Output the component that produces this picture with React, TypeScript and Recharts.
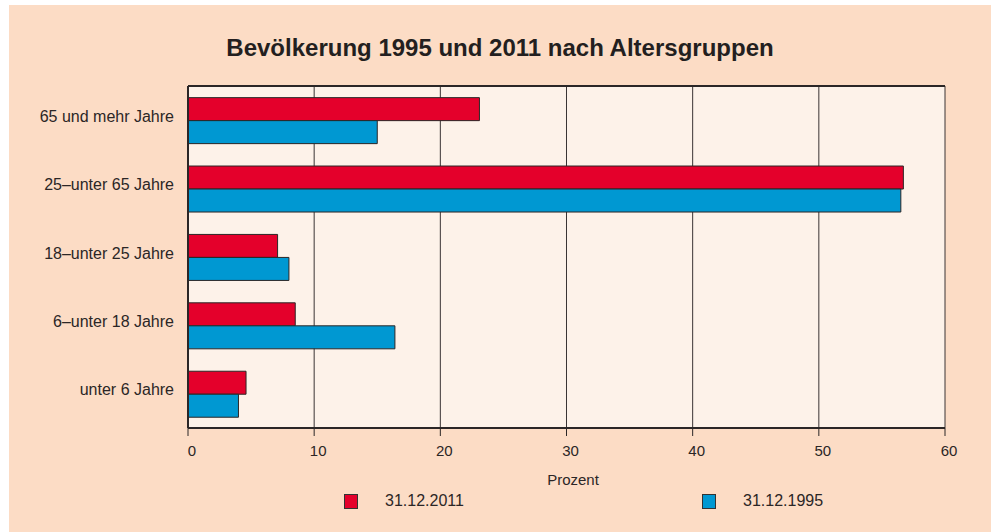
import { Bar, BarChart, CartesianGrid, XAxis, YAxis } from "recharts";

const ageGroups = [
  "65 und mehr Jahre",
  "25–unter 65 Jahre",
  "18–unter 25 Jahre",
  "6–unter 18 Jahre",
  "unter 6 Jahre"
];
const share2011 = [23.1, 56.7, 7.1, 8.5, 4.6];
const share1995 = [15.0, 56.5, 8.0, 16.4, 4.0];
const xTicks = [0, 10, 20, 30, 40, 50, 60];

const RED = "#e4002b";
const BLUE = "#0098d2";
const INK = "#2b2626";
const FONT = "'Liberation Sans', Arial, sans-serif";

const data = ageGroups.map((group, i) => ({
  group,
  y2011: share2011[i],
  y1995: share1995[i]
}));

// labels sit a little off the tick positions in the original
function XTick({ x, y, payload }: any) {
  return (
    <text x={x + 4} y={y} dy="0.71em" textAnchor="middle" fontSize={15} fill={INK} fontFamily={FONT}>
      {payload.value}
    </text>
  );
}

function YTick({ x, y, payload }: any) {
  return (
    <text x={x} y={y - 4} dy="0.355em" textAnchor="end" fontSize={16} fill={INK} fontFamily={FONT}>
      {payload.value}
    </text>
  );
}

function ChartLegend() {
  const item = (color: string, label: string, left: number) => (
    <div style={{ position: "absolute", left, top: 21, display: "flex", alignItems: "center" }}>
      <span
        style={{
          width: 12,
          height: 13,
          background: color,
          border: "1px solid #333",
          display: "inline-block"
        }}
      />
      <span style={{ marginLeft: 27, fontSize: 16, color: INK }}>{label}</span>
    </div>
  );
  return (
    <div style={{ position: "absolute", left: 0, top: 466, width: 982, height: 50, fontFamily: FONT }}>
      <div style={{ position: "absolute", left: 564 - 40, width: 80, top: 0, textAlign: "center", fontSize: 15, color: INK }}>
        Prozent
      </div>
      {item(RED, "31.12.2011", 335)}
      {item(BLUE, "31.12.1995", 693)}
    </div>
  );
}

export default function App() {
  return (
    <div style={{ position: "fixed", left: 0, top: 0, width: 991, height: 532, background: "#fff" }}>
      <div
        style={{
          position: "absolute",
          left: 9,
          top: 5,
          width: 982,
          height: 527,
          background: "#fcdcc5",
          fontFamily: FONT
        }}
      >
        <div
          style={{
            position: "absolute",
            top: 29,
            left: 0,
            width: 982,
            textAlign: "center",
            fontSize: 24,
            fontWeight: "bold",
            color: "#231f20"
          }}
        >
          Bevölkerung 1995 und 2011 nach Altersgruppen
        </div>
        <BarChart
          width={982}
          height={527}
          data={data}
          layout="vertical"
          margin={{ top: 80, right: 46, bottom: 0, left: 0 }}
          barCategoryGap="17%"
          barGap={0}
        >
          <CartesianGrid horizontal={false} stroke="#3a3434" fill="#fdf2e9" fillOpacity={1} />
          <XAxis
            type="number"
            domain={[0, 60]}
            ticks={xTicks}
            height={104}
            tickSize={8}
            tickMargin={9}
            interval={0}
            stroke="#2b2626"
            axisLine={{ stroke: "#2b2626", strokeWidth: 2 }}
            tick={<XTick />}
          />
          <XAxis
            xAxisId="top"
            orientation="top"
            type="number"
            domain={[0, 60]}
            height={1}
            tick={false}
            tickLine={false}
            axisLine={{ stroke: "#2b2626", strokeWidth: 2 }}
          />
          <YAxis
            type="category"
            dataKey="group"
            width={179}
            tickLine={false}
            tickSize={12}
            axisLine={{ stroke: "#2b2626", strokeWidth: 2 }}
            tick={<YTick />}
          />
          <Bar dataKey="y2011" name="31.12.2011" fill={RED} stroke="#2b2626" strokeWidth={1} isAnimationActive={false} />
          <Bar dataKey="y1995" name="31.12.1995" fill={BLUE} stroke="#2b2626" strokeWidth={1} isAnimationActive={false} />
        </BarChart>
        <ChartLegend />
      </div>
    </div>
  );
}
